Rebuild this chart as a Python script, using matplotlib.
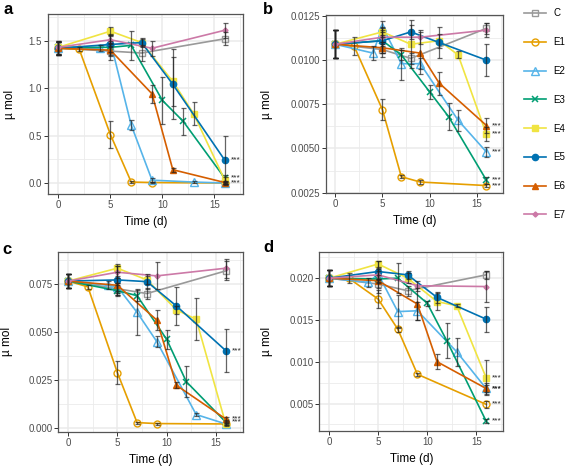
import matplotlib
matplotlib.use("Agg")
import matplotlib.pyplot as plt
from matplotlib.lines import Line2D
from matplotlib.ticker import FixedLocator, FormatStrFormatter

plt.rcParams['font.family'] = ['Liberation Sans', 'DejaVu Sans']

SERIES = ['C', 'E1', 'E2', 'E3', 'E4', 'E5', 'E6', 'E7']

# sampling days for each treatment
DAYS = {
    'C': [0, 5, 8, 16],
    'E1': [0, 2, 5, 7, 9, 16],
    'E2': [0, 4, 5, 7, 9, 13, 16],
    'E3': [0, 5, 7, 10, 12, 16],
    'E4': [0, 5, 8, 11, 13, 16],
    'E5': [0, 5, 8, 11, 16],
    'E6': [0, 5, 9, 11, 16],
    'E7': [0, 5, 9, 16],
}

# panel a
A_MEAN = {
    'C': [1.42, 1.39, 1.37, 1.52],
    'E1': [1.42, 1.41, 0.51, 0.01, 0.005, 0.0],
    'E2': [1.42, 1.42, 1.49, 0.61, 0.03, 0.01, 0.0],
    'E3': [1.43, 1.43, 1.45, 0.87, 0.65, 0.05],
    'E4': [1.43, 1.60, 1.48, 1.07, 0.73, 0.03],
    'E5': [1.42, 1.46, 1.48, 1.04, 0.24],
    'E6': [1.42, 1.40, 0.94, 0.14, 0.005],
    'E7': [1.43, 1.51, 1.42, 1.61],
}
A_SD = {
    'C': [0.07, 0.05, 0.08, 0.07],
    'E1': [0.07, 0.02, 0.14, 0.01, 0.01, 0.01],
    'E2': [0.07, 0.03, 0.06, 0.05, 0.02, 0.01, 0.01],
    'E3': [0.07, 0.05, 0.15, 0.245, 0.145, 0.03],
    'E4': [0.07, 0.04, 0.04, 0.26, 0.12, 0.03],
    'E5': [0.07, 0.11, 0.05, 0.37, 0.26],
    'E6': [0.07, 0.10, 0.095, 0.02, 0.02],
    'E7': [0.07, 0.05, 0.08, 0.08],
}
A_SIG = ['E5', 'E3', 'E6']

# panel b
B_MEAN = {
    'C': [0.0109, 0.0106, 0.0101, 0.0118],
    'E1': [0.0109, 0.0108, 0.0072, 0.0034, 0.0031, 0.0029],
    'E2': [0.0109, 0.0104, 0.0119, 0.0098, 0.0098, 0.0066, 0.0048],
    'E3': [0.0109, 0.0111, 0.0103, 0.0082, 0.0068, 0.0032],
    'E4': [0.0109, 0.0116, 0.0109, 0.0111, 0.0103, 0.0058],
    'E5': [0.0109, 0.0111, 0.0116, 0.0110, 0.0100],
    'E6': [0.0109, 0.0107, 0.0104, 0.0087, 0.0063],
    'E7': [0.0109, 0.0113, 0.0113, 0.0117],
}
B_SD = {
    'C': [0.0008, 0.0004, 0.0003, 0.0003],
    'E1': [0.0008, 0.0005, 0.0006, 0.0001, 0.0001, 0.0001],
    'E2': [0.0008, 0.0004, 0.0003, 0.0009, 0.0003, 0.0006, 0.0003],
    'E3': [0.0008, 0.0003, 0.0003, 0.0004, 0.00075, 0.0002],
    'E4': [0.0008, 0.0003, 0.00135, 0.0004, 0.0002, 0.0004],
    'E5': [0.0008, 0.0007, 0.0004, 0.0009, 0.0009],
    'E6': [0.0008, 0.0003, 0.0012, 0.00065, 0.0004],
    'E7': [0.0008, 0.0004, 0.0004, 0.0004],
}
B_SIG = ['E6', 'E4', 'E2', 'E3', 'E1']

# panel c
C_MEAN = {
    'C': [0.0765, 0.0725, 0.0700, 0.0818],
    'E1': [0.0765, 0.0735, 0.0288, 0.0028, 0.0023, 0.0021],
    'E2': [0.0765, 0.0743, 0.0735, 0.0602, 0.0450, 0.0070, 0.0021],
    'E3': [0.0765, 0.0715, 0.0689, 0.0462, 0.0241, 0.0031],
    'E4': [0.0765, 0.0832, 0.0771, 0.0615, 0.0566, 0.0021],
    'E5': [0.0765, 0.0771, 0.0762, 0.0635, 0.0403],
    'E6': [0.0765, 0.0743, 0.0562, 0.0222, 0.0047],
    'E7': [0.0765, 0.0811, 0.0792, 0.0832],
}
C_SD = {
    'C': [0.0037, 0.003, 0.003, 0.005],
    'E1': [0.0037, 0.001, 0.006, 0.0005, 0.0005, 0.0005],
    'E2': [0.0037, 0.002, 0.002, 0.012, 0.0027, 0.001, 0.0005],
    'E3': [0.0037, 0.003, 0.003, 0.005, 0.008, 0.001],
    'E4': [0.0037, 0.002, 0.002, 0.002, 0.011, 0.001],
    'E5': [0.0037, 0.007, 0.004, 0.0098, 0.011],
    'E6': [0.0037, 0.005, 0.005, 0.0015, 0.001],
    'E7': [0.0037, 0.003, 0.007, 0.005],
}
C_SIG = ['E5', 'E6', 'E3']

# panel d
D_MEAN = {
    'C': [0.0200, 0.0193, 0.0185, 0.0204],
    'E1': [0.0200, 0.0200, 0.0175, 0.0139, 0.0085, 0.0049],
    'E2': [0.0200, 0.0195, 0.0205, 0.0160, 0.0161, 0.0112, 0.0068],
    'E3': [0.0200, 0.0199, 0.0200, 0.0170, 0.0125, 0.0029],
    'E4': [0.0200, 0.0217, 0.0200, 0.0172, 0.0167, 0.0081],
    'E5': [0.0200, 0.0208, 0.0204, 0.0177, 0.0151],
    'E6': [0.0200, 0.0197, 0.0169, 0.0100, 0.0068],
    'E7': [0.0200, 0.0204, 0.0191, 0.0190],
}
D_SD = {
    'C': [0.00095, 0.0005, 0.0006, 0.0005],
    'E1': [0.00095, 0.0006, 0.0011, 0.0003, 0.0002, 0.0004],
    'E2': [0.00095, 0.0005, 0.0006, 0.002, 0.0011, 0.0017, 0.0004],
    'E3': [0.00095, 0.0005, 0.0018, 0.0003, 0.0021, 0.0002],
    'E4': [0.00095, 0.0004, 0.0006, 0.001, 0.0002, 0.0021],
    'E5': [0.00095, 0.0012, 0.0005, 0.0007, 0.0015],
    'E6': [0.00095, 0.0015, 0.0019, 0.0009, 0.0007],
    'E7': [0.00095, 0.0005, 0.0006, 0.0019],
}
D_SIG = ['E4', 'E6', 'E2', 'E1', 'E3']

COLORS = {'C': '#999999', 'E1': '#E69F00', 'E2': '#56B4E9', 'E3': '#009E73',
          'E4': '#F0E442', 'E5': '#0072B2', 'E6': '#D55E00', 'E7': '#CC79A7'}
# marker, size, filled
MARKERS = {'C': ('s', 5, False), 'E1': ('o', 5, False), 'E2': ('^', 5.5, False),
           'E3': ('x', 5, True), 'E4': ('s', 4.3, True), 'E5': ('o', 4.5, True),
           'E6': ('^', 5, True), 'E7': ('D', 2.6, True)}

GRID = '#EBEBEB'
TXT = '#4D4D4D'


def series_style(s):
    m, ms, filled = MARKERS[s]
    return dict(color=COLORS[s], lw=1.2, marker=m, markersize=ms,
                mfc=COLORS[s] if filled else 'none', mec=COLORS[s],
                mew=1.0 if m != 'x' else 1.1)


def draw_panel(ax, means, sds, sig, yticks, fmt, ylim):
    for s in SERIES:
        ax.plot(DAYS[s], means[s], zorder=3, **series_style(s))
    for s in SERIES:
        ax.errorbar(DAYS[s], means[s], yerr=sds[s], fmt='none', ecolor='#222222',
                    alpha=0.7, elinewidth=0.9, capsize=1.8, capthick=0.9, zorder=4)
    for s in sig:
        ax.text(DAYS[s][-1] + 0.6, means[s][-1], '***', fontsize=6, color='#222222',
                ha='left', va='center', zorder=5)

    ax.set_xlim(-1, 17.75)
    ax.set_ylim(*ylim)
    ax.xaxis.set_major_locator(FixedLocator([0, 5, 10, 15]))
    ax.xaxis.set_minor_locator(FixedLocator([2.5, 7.5, 12.5, 17.5]))
    step = yticks[1] - yticks[0]
    ax.yaxis.set_major_locator(FixedLocator(yticks))
    ax.yaxis.set_minor_locator(FixedLocator([t - step / 2 for t in yticks] + [yticks[-1] + step / 2]))
    ax.yaxis.set_major_formatter(FormatStrFormatter(fmt))
    ax.grid(True, which='major', color=GRID, lw=1.1, zorder=0)
    ax.grid(True, which='minor', color=GRID, lw=0.6, zorder=0)
    ax.set_axisbelow(True)
    ax.tick_params(which='major', length=2.8, width=0.7, color='#333333',
                   labelsize=7, labelcolor=TXT, pad=1.5)
    ax.tick_params(which='minor', length=0)
    for sp in ax.spines.values():
        sp.set_color('#555555')
        sp.set_linewidth(0.9)
    ax.set_xlabel('Time (d)', fontsize=8.5, color='black')
    ax.set_ylabel('µ mol', fontsize=8.5, color='black')


fig = plt.figure(figsize=(5.67, 4.70), dpi=100)

ax_a = fig.add_axes([0.0847, 0.5872, 0.3439, 0.3830])
ax_b = fig.add_axes([0.5744, 0.5894, 0.3127, 0.3787])
ax_c = fig.add_axes([0.1028, 0.0815, 0.3257, 0.3830])
ax_d = fig.add_axes([0.5631, 0.0830, 0.3245, 0.3802])

draw_panel(ax_a, A_MEAN, A_SD, A_SIG, [0.0, 0.5, 1.0, 1.5], '%.1f', (-0.116, 1.781))
draw_panel(ax_b, B_MEAN, B_SD, B_SIG, [0.0025, 0.005, 0.0075, 0.01, 0.0125], '%.4f', (0.00248, 0.012557))
draw_panel(ax_c, C_MEAN, C_SD, C_SIG, [0.0, 0.025, 0.05, 0.075], '%.3f', (-0.00193, 0.0918))
draw_panel(ax_d, D_MEAN, D_SD, D_SIG, [0.005, 0.01, 0.015, 0.02], '%.3f', (0.00171, 0.0231))

for ax, ylx in [(ax_a, -0.195), (ax_b, -0.331), (ax_c, -0.278), (ax_d, -0.284)]:
    ax.yaxis.set_label_coords(ylx, 0.5)
    ax.yaxis.label.set_va('center')
    ax.xaxis.set_label_coords(0.5, -0.155)
    ax.xaxis.label.set_va('center')

for letter, x, y in [('a', 3, 10), ('b', 263, 9), ('c', 2, 249), ('d', 263, 248)]:
    fig.text(x / 567, 1 - y / 470, letter, fontsize=12, fontweight='bold',
             ha='left', va='center')

handles = [Line2D([], [], **series_style(s)) for s in SERIES]
fig.legend(handles, SERIES, loc='upper left', bbox_to_anchor=(0.924, 0.982),
           frameon=False, fontsize=7, handlelength=2.3, handletextpad=0.7,
           labelspacing=1.93, borderpad=0, borderaxespad=0, numpoints=1)

fig.savefig('out.png', dpi=100)
